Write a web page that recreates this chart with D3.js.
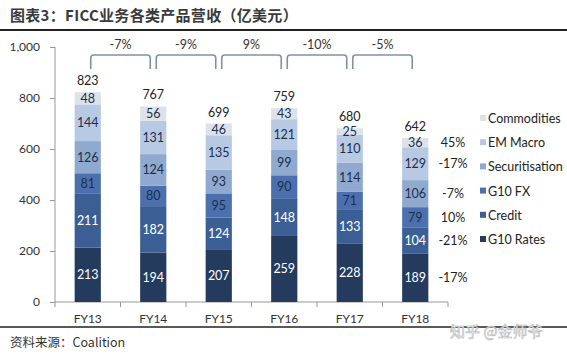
<!DOCTYPE html>
<html><head><meta charset="utf-8">
<script src="https://cdn.jsdelivr.net/npm/d3@7/dist/d3.min.js"></script>
<style>body{margin:0;background:#fff}svg{display:block}</style>
</head><body>
<svg id="c" width="567" height="359"></svg>
<script>
const categories = ["FY13","FY14","FY15","FY16","FY17","FY18"];
const seriesNames = ["G10 Rates","Credit","G10 FX","Securitisation","EM Macro","Commodities"];
const g10Rates = [213,194,207,259,228,189];
const credit = [211,182,124,148,133,104];
const g10FX = [81,80,95,90,71,79];
const securitisation = [126,124,93,99,114,106];
const emMacro = [144,131,135,121,110,129];
const commodities = [48,56,46,43,25,36];
const totals = [823,767,699,759,680,642];
const yoyChanges = ["-7%","-9%","9%","-10%","-5%"];
const fy18Changes = ["-17%","-21%","10%","-7%","-17%","45%"];
const yTicks = [0,200,400,600,800,1000];

const colors = ["#243b5e","#3b5f94","#4c70ae","#8fa9cf","#b8c9e3","#dde2e8"];
const labelColors = ["#ffffff","#ffffff","#1c2f4f","#1c2f4f","#1c2f4f","#1c2f4f"];
const seriesData = [g10Rates,credit,g10FX,securitisation,emMacro,commodities];

const svg = d3.select("#c");
const numFont = "Lato, 'Open Sans', sans-serif";
const cjkFont = "'Noto Sans CJK SC', sans-serif";

// title
svg.append("text").attr("x",10).attr("y",21).attr("font-family",cjkFont)
  .attr("font-size",15).attr("letter-spacing",0.3).attr("font-weight","bold").attr("fill","#3a3a3a")
  .text("图表3：FICC业务各类产品营收（亿美元）");
svg.append("line").attr("x1",0).attr("x2",567).attr("y1",30).attr("y2",30)
  .attr("stroke","#222").attr("stroke-width",2);
svg.append("line").attr("x1",0).attr("x2",567).attr("y1",327).attr("y2",327)
  .attr("stroke","#222").attr("stroke-width",1.6);
svg.append("text").attr("x",10).attr("y",347).attr("font-family",cjkFont)
  .attr("font-size",12.5).attr("fill","#333").text("资料来源：Coalition");

const x = d3.scaleBand().domain(categories).range([55,448]).paddingInner(0.6).paddingOuter(0.3);
const y = d3.scaleLinear().domain([0,1000]).range([302,47]);

// y axis
const yAxis = svg.append("g").attr("transform","translate(55,0)")
  .call(d3.axisLeft(y).tickValues(yTicks).tickSize(5).tickPadding(10).tickFormat(d3.format(",")));
yAxis.select(".domain").attr("stroke","#999").attr("d","M0,47V302");
yAxis.selectAll(".tick line").attr("stroke","#999");
yAxis.selectAll(".tick text").attr("font-family",numFont).attr("font-size",12).attr("fill","#333");

// x axis
const band = d3.scaleBand().domain(categories).range([55,448]);
const xg = svg.append("g").attr("transform","translate(0,302)");
xg.append("line").attr("x1",55).attr("x2",448).attr("stroke","#999");
xg.selectAll("line.t").data(categories.concat(["end"])).enter().append("line")
  .attr("x1",(d,i)=>55+i*band.bandwidth()).attr("x2",(d,i)=>55+i*band.bandwidth())
  .attr("y1",0).attr("y2",5).attr("stroke","#999");
xg.selectAll("text").data(categories).enter().append("text")
  .attr("x",d=>x(d)+x.bandwidth()/2).attr("y",21).attr("text-anchor","middle")
  .attr("font-family",numFont).attr("font-size",12).attr("fill","#333").text(d=>d);

// stacked bars
const table = categories.map((c,i)=>{const o={cat:c}; seriesNames.forEach((s,j)=>o[s]=seriesData[j][i]); return o;});
const stack = d3.stack().keys(seriesNames)(table);
stack.forEach((layer,j)=>{
  const g = svg.append("g");
  g.selectAll("rect").data(layer).enter().append("rect")
    .attr("x",d=>x(d.data.cat)).attr("width",x.bandwidth())
    .attr("y",d=>y(d[1])).attr("height",d=>y(d[0])-y(d[1])).attr("fill",colors[j]);
  g.selectAll("text").data(layer).enter().append("text")
    .attr("x",d=>x(d.data.cat)+x.bandwidth()/2).attr("y",d=>(y(d[0])+y(d[1]))/2+4.5)
    .attr("text-anchor","middle").attr("font-family",numFont).attr("font-size",12.5)
    .attr("fill",labelColors[j]).text(d=>d.data[seriesNames[j]]);
});

// totals
svg.selectAll("text.tot").data(categories).enter().append("text")
  .attr("x",d=>x(d)+x.bandwidth()/2).attr("y",(d,i)=>y(stack[5][i][1])-7)
  .attr("text-anchor","middle").attr("font-family",numFont).attr("font-size",12.5)
  .attr("fill","#222").text((d,i)=>totals[i]);

// brackets
const cx = d=>x(d)+x.bandwidth()/2;
yoyChanges.forEach((t,i)=>{
  const x1 = cx(categories[i])+3, x2 = cx(categories[i+1])-3, top=55, bot=69, r=3;
  svg.append("path").attr("d",`M${x1},${bot}V${top+r}Q${x1},${top} ${x1+r},${top}H${x2-r}Q${x2},${top} ${x2},${top+r}V${bot}`)
    .attr("fill","none").attr("stroke","#7d92a8").attr("stroke-width",1.6);
  svg.append("text").attr("x",(x1+x2)/2).attr("y",49).attr("text-anchor","middle")
    .attr("font-family",numFont).attr("font-size",12.5).attr("fill","#333").text(t);
});

// FY18 changes
const last = categories.length-1;
stack.forEach((layer,j)=>{
  svg.append("text").attr("x",453).attr("y",(y(layer[last][0])+y(layer[last][1]))/2+4.5)
    .attr("text-anchor","middle").attr("font-family",numFont).attr("font-size",12.5)
    .attr("fill","#222").text(fy18Changes[j]);
});

// legend
const legOrder = seriesNames.map((s,i)=>i).reverse();
legOrder.forEach((j,k)=>{
  const ly = 123 + k*24.2;
  svg.append("rect").attr("x",480).attr("y",ly-8).attr("width",6).attr("height",6).attr("fill",colors[j]);
  svg.append("text").attr("x",488).attr("y",ly).attr("font-family",numFont).attr("font-size",12.5)
    .attr("fill","#222").text(seriesNames[j]);
});

// watermark
svg.append("text").attr("x",450).attr("y",337).attr("font-family",cjkFont).attr("font-size",15)
  .attr("fill","#fff").attr("stroke","#b5b5b5").attr("stroke-width",0.6).text("知乎 @金师爷");
</script>
</body></html>
